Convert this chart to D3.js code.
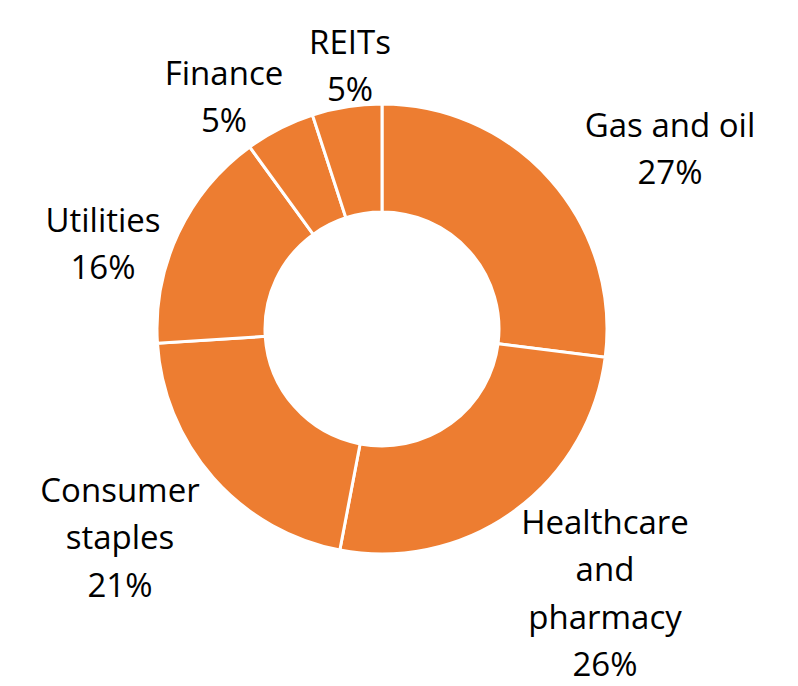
<!DOCTYPE html>
<html>
<head>
<meta charset="utf-8">
<script src="https://cdn.jsdelivr.net/npm/d3@7"></script>
<style>
  body { margin: 0; background: #fff; }
  text { font-family: "Open Sans", sans-serif; font-size: 33px; fill: #000; }
</style>
</head>
<body>
<div id="chart"></div>
<script>
var sectors = ["Gas and oil", "Healthcare and pharmacy", "Consumer staples", "Utilities", "Finance", "REITs"];
var shares = [27, 26, 21, 16, 5, 5];
// how each label is broken into lines
var labelLines = [["Gas and oil"], ["Healthcare", "and", "pharmacy"], ["Consumer", "staples"], ["Utilities"], ["Finance"], ["REITs"]];

function init() {
    var w = 798;
    var h = 686;
    var cx = 382, cy = 329;
    var outerR = 225, innerR = 117;
    var lineH = 47.5;

    // label anchors (centre x, first line centre y)
    var labelPos = [[670, 125], [605, 522], [120, 490], [103, 220], [224, 73], [350, 42]];

    var svg = d3.select("#chart")
                .append("svg")
                .attr("width", w)
                .attr("height", h);

    var pie = d3.pie()
                .sort(null)
                .value(function(d) { return d; });

    var arc = d3.arc()
                .innerRadius(innerR)
                .outerRadius(outerR);

    var g = svg.append("g")
               .attr("transform", "translate(" + cx + "," + cy + ")");

    g.selectAll("path")
        .data(pie(shares))
        .enter()
        .append("path")
        .attr("d", arc)
        .style("fill", "#ED7D31")
        .style("stroke", "#fff")
        .style("stroke-width", 3);

    var labels = svg.selectAll("text.lbl")
        .data(sectors)
        .enter()
        .append("text")
        .attr("class", "lbl")
        .attr("text-anchor", "middle")
        .attr("x", function(d, i) { return labelPos[i][0]; })
        .attr("y", function(d, i) { return labelPos[i][1]; });

    labels.each(function(d, i) {
        var t = d3.select(this);
        var lines = labelLines[i].concat([shares[i] + "%"]);
        lines.forEach(function(s, k) {
            t.append("tspan")
             .attr("x", labelPos[i][0])
             .attr("y", labelPos[i][1] + k * lineH)
             .attr("dy", "0.35em")
             .text(s);
        });
    });
}

window.onload = init;
</script>
</body>
</html>
